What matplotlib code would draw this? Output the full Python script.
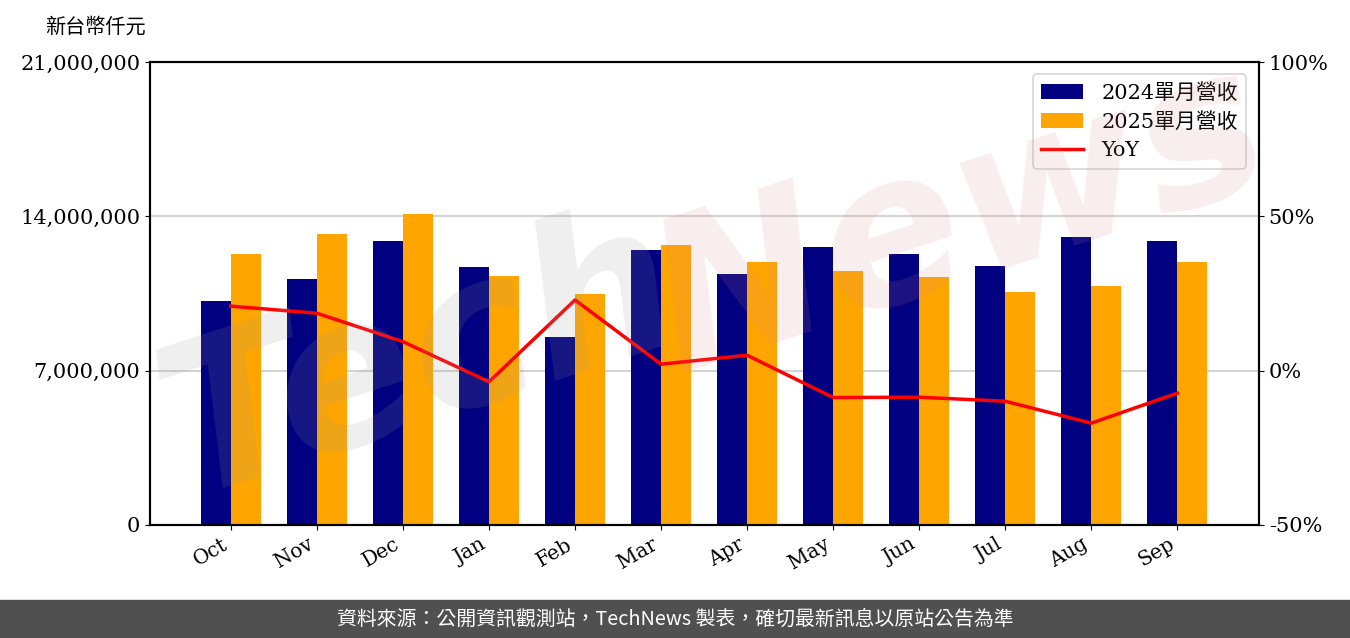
import matplotlib
matplotlib.use("Agg")
import matplotlib.pyplot as plt
import numpy as np
from matplotlib.patches import Rectangle

plt.rcParams['font.family'] = ['DejaVu Serif', 'Noto Sans CJK TC']

months = ['Oct', 'Nov', 'Dec', 'Jan', 'Feb', 'Mar', 'Apr', 'May', 'Jun', 'Jul', 'Aug', 'Sep']
rev_2024 = [10160000, 11160000, 12880000, 11700000, 8530000, 12470000,
            11380000, 12610000, 12290000, 11750000, 13060000, 12880000]
rev_2025 = [12290000, 13200000, 14100000, 11290000, 10480000, 12700000,
            11930000, 11520000, 11250000, 10570000, 10840000, 11930000]
yoy = [20.9, 18.6, 9.4, -3.6, 22.9, 2.1, 5.0, -8.7, -8.6, -9.9, -17.0, -7.3]

left_ticks = [0, 7000000, 14000000, 21000000]
left_labels = ['0', '7,000,000', '14,000,000', '21,000,000']
right_ticks = [-50, 0, 50, 100]
right_labels = ['-50%', '0%', '50%', '100%']

W, H = 1350, 638
fig = plt.figure(figsize=(W / 100, H / 100), dpi=100)
ax = fig.add_axes([150 / W, 1 - 525 / H, (1259 - 150) / W, (525 - 62) / H])

x = np.arange(len(months))
bw = 0.35
ax.bar(x - bw / 2, rev_2024, bw, color='#000080', label='2024單月營收', zorder=2)
ax.bar(x + bw / 2, rev_2025, bw, color='#FFA500', label='2025單月營收', zorder=2)
ax.set_ylim(0, 21000000)
ax.set_xlim(-0.94, 11.95)
ax.set_yticks(left_ticks)
ax.set_yticklabels(left_labels, fontsize=15)
ax.set_xticks(x)
ax.set_xticklabels(months, rotation=30, ha='right', fontsize=14.5)
ax.grid(axis='y', color='#d3d3d3', linewidth=1.5, zorder=0)
ax.set_axisbelow(True)
for s in ax.spines.values():
    s.set_linewidth(1.5)

ax2 = ax.twinx()
ax2.plot(x, yoy, color='red', linewidth=2.5, label='YoY', zorder=3)
ax2.set_ylim(-50, 100)
ax2.set_yticks(right_ticks)
ax2.set_yticklabels(right_labels, fontsize=15)
for s in ax2.spines.values():
    s.set_linewidth(1.5)

h1, l1 = ax.get_legend_handles_labels()
h2, l2 = ax2.get_legend_handles_labels()
leg = ax2.legend(h1 + h2, l1 + l2, loc='upper right', fontsize=15,
                 frameon=True, fancybox=True, edgecolor='#cccccc',
                 borderpad=0.4, handlelength=2.0, handletextpad=0.9,
                 labelspacing=0.45, borderaxespad=0.6)
leg.get_frame().set_linewidth(1.2)

fig.text(45 / W, 1 - 27 / H, '新台幣仟元', fontsize=14.5, va='center', ha='left',
         family=['Noto Sans CJK TC'])

# watermark
fig.text(420 / W, 1 - 360 / H, 'Tech', fontsize=150, color='#999999', alpha=0.16,
         rotation=18, ha='center', va='center', style='italic', fontweight='bold',
         family=['DejaVu Sans'], zorder=10)
fig.text(960 / W, 1 - 220 / H, 'News', fontsize=150, color='#d98888', alpha=0.14,
         rotation=18, ha='center', va='center', style='italic', fontweight='bold',
         family=['DejaVu Sans'], zorder=10)

# footer
fig.patches.append(Rectangle((0, 0), 1, 38 / H, transform=fig.transFigure,
                             color='#505050', zorder=0))
fig.text(0.5, 19 / H, '資料來源：公開資訊觀測站，TechNews 製表，確切最新訊息以原站公告為準',
         color='white', fontsize=14.3, ha='center', va='center',
         family=['Noto Sans CJK TC'])

fig.savefig('out.png', dpi=100)
